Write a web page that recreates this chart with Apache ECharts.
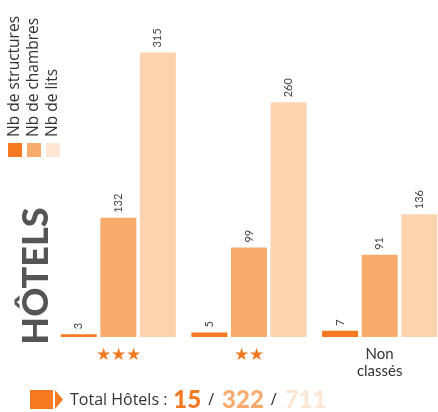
<!DOCTYPE html>
<html>
<head>
<meta charset="utf-8">
<script src="https://cdn.jsdelivr.net/npm/echarts@6/dist/echarts.min.js"></script>
<style>
  html, body { margin: 0; padding: 0; background: #fff; }
  #chart { width: 438px; height: 412px; }
</style>
</head>
<body>
<div id="chart"></div>
<script>
  // data
  const categories = ["★★★", "★★", "Non\nclassés"];
  const seriesNames = ["Nb de structures", "Nb de chambres", "Nb de lits"];
  const structures = [3, 5, 7];
  const chambres = [132, 99, 91];
  const lits = [315, 260, 136];
  const totals = [15, 322, 711];

  const colors = ["#F47920", "#F9AB6E", "#FDD3AF"];
  const legendColors = ["#F47920", "#F9AB6E", "#FDE6D3"];
  const FONT = "Lato";
  const FONT2 = "'Open Sans'";

  const chart = echarts.init(document.getElementById("chart"));

  const makeSeries = (name, data, color) => ({
    name: name,
    type: "bar",
    data: data,
    barWidth: 36,
    barGap: "10%",
    itemStyle: { color: color },
    label: {
      show: true,
      position: "top",
      rotate: 90,
      align: "left",
      verticalAlign: "middle",
      distance: 5,
      color: "#444",
      fontSize: 11,
      fontFamily: FONT,
    },
  });

  const legendGraphics = [];
  seriesNames.forEach((n, i) => {
    const x = 8 + i * 19;
    legendGraphics.push({
      type: "rect",
      shape: { x: x, y: 143, width: 14, height: 14 },
      style: { fill: legendColors[i] },
    });
    legendGraphics.push({
      type: "text",
      x: x + 7,
      y: 137,
      rotation: Math.PI / 2,
      style: {
        text: n,
        fill: "#333",
        font: "15.5px " + FONT2,
        align: "left",
        verticalAlign: "middle",
      },
    });
  });

  chart.setOption({
    animation: false,
    grid: { left: 53, top: 21, width: 392, height: 316, outerBoundsMode: "none" },
    xAxis: {
      type: "category",
      data: categories,
      axisLine: { show: false },
      axisTick: { show: false },
      axisLabel: {
        margin: 9,
        interval: 0,
        formatter: (v) => (v.indexOf("★") >= 0 ? "{s|" + v + "}" : "{t|" + v + "}"),
        rich: {
          s: { color: "#F47920", fontSize: 17, fontFamily: FONT },
          t: { color: "#333", fontSize: 15, fontFamily: FONT, lineHeight: 17, align: "center" },
        },
      },
    },
    yAxis: {
      type: "value",
      min: 0,
      max: 350,
      show: false,
    },
    series: [
      makeSeries(seriesNames[0], structures, colors[0]),
      makeSeries(seriesNames[1], chambres, colors[1]),
      makeSeries(seriesNames[2], lits, colors[2]),
    ],
    graphic: legendGraphics.concat([
      {
        type: "text",
        x: 36,
        y: 276,
        rotation: Math.PI / 2,
        style: {
          text: "HÔTELS",
          fill: "#555",
          font: "900 36px " + FONT,
          align: "center",
          verticalAlign: "middle",
        },
      },
      {
        type: "rect",
        shape: { x: 30, y: 390, width: 23, height: 19 },
        style: { fill: "#F47920" },
      },
      {
        type: "polygon",
        shape: { points: [[55, 390], [63, 399.5], [55, 409]] },
        style: { fill: "#F47920" },
      },
      {
        type: "text",
        x: 70,
        y: 400,
        style: {
          text:
            "{l|Total Hôtels :}{a|" + totals[0] + "}{s|/}{b|" + totals[1] +
            "}{s|/}{c|" + totals[2] + "}",
          verticalAlign: "middle",
          align: "left",
          rich: {
            l: { fill: "#333", font: "16px " + FONT2, padding: [0, 6, 0, 0] },
            s: { fill: "#333", font: "16px " + FONT2, padding: [0, 8, 0, 7] },
            a: { fill: colors[0], font: "900 24px " + FONT },
            b: { fill: colors[1], font: "900 24px " + FONT },
            c: { fill: legendColors[2], font: "900 24px " + FONT },
          },
        },
      },
    ]),
  });
</script>
</body>
</html>
